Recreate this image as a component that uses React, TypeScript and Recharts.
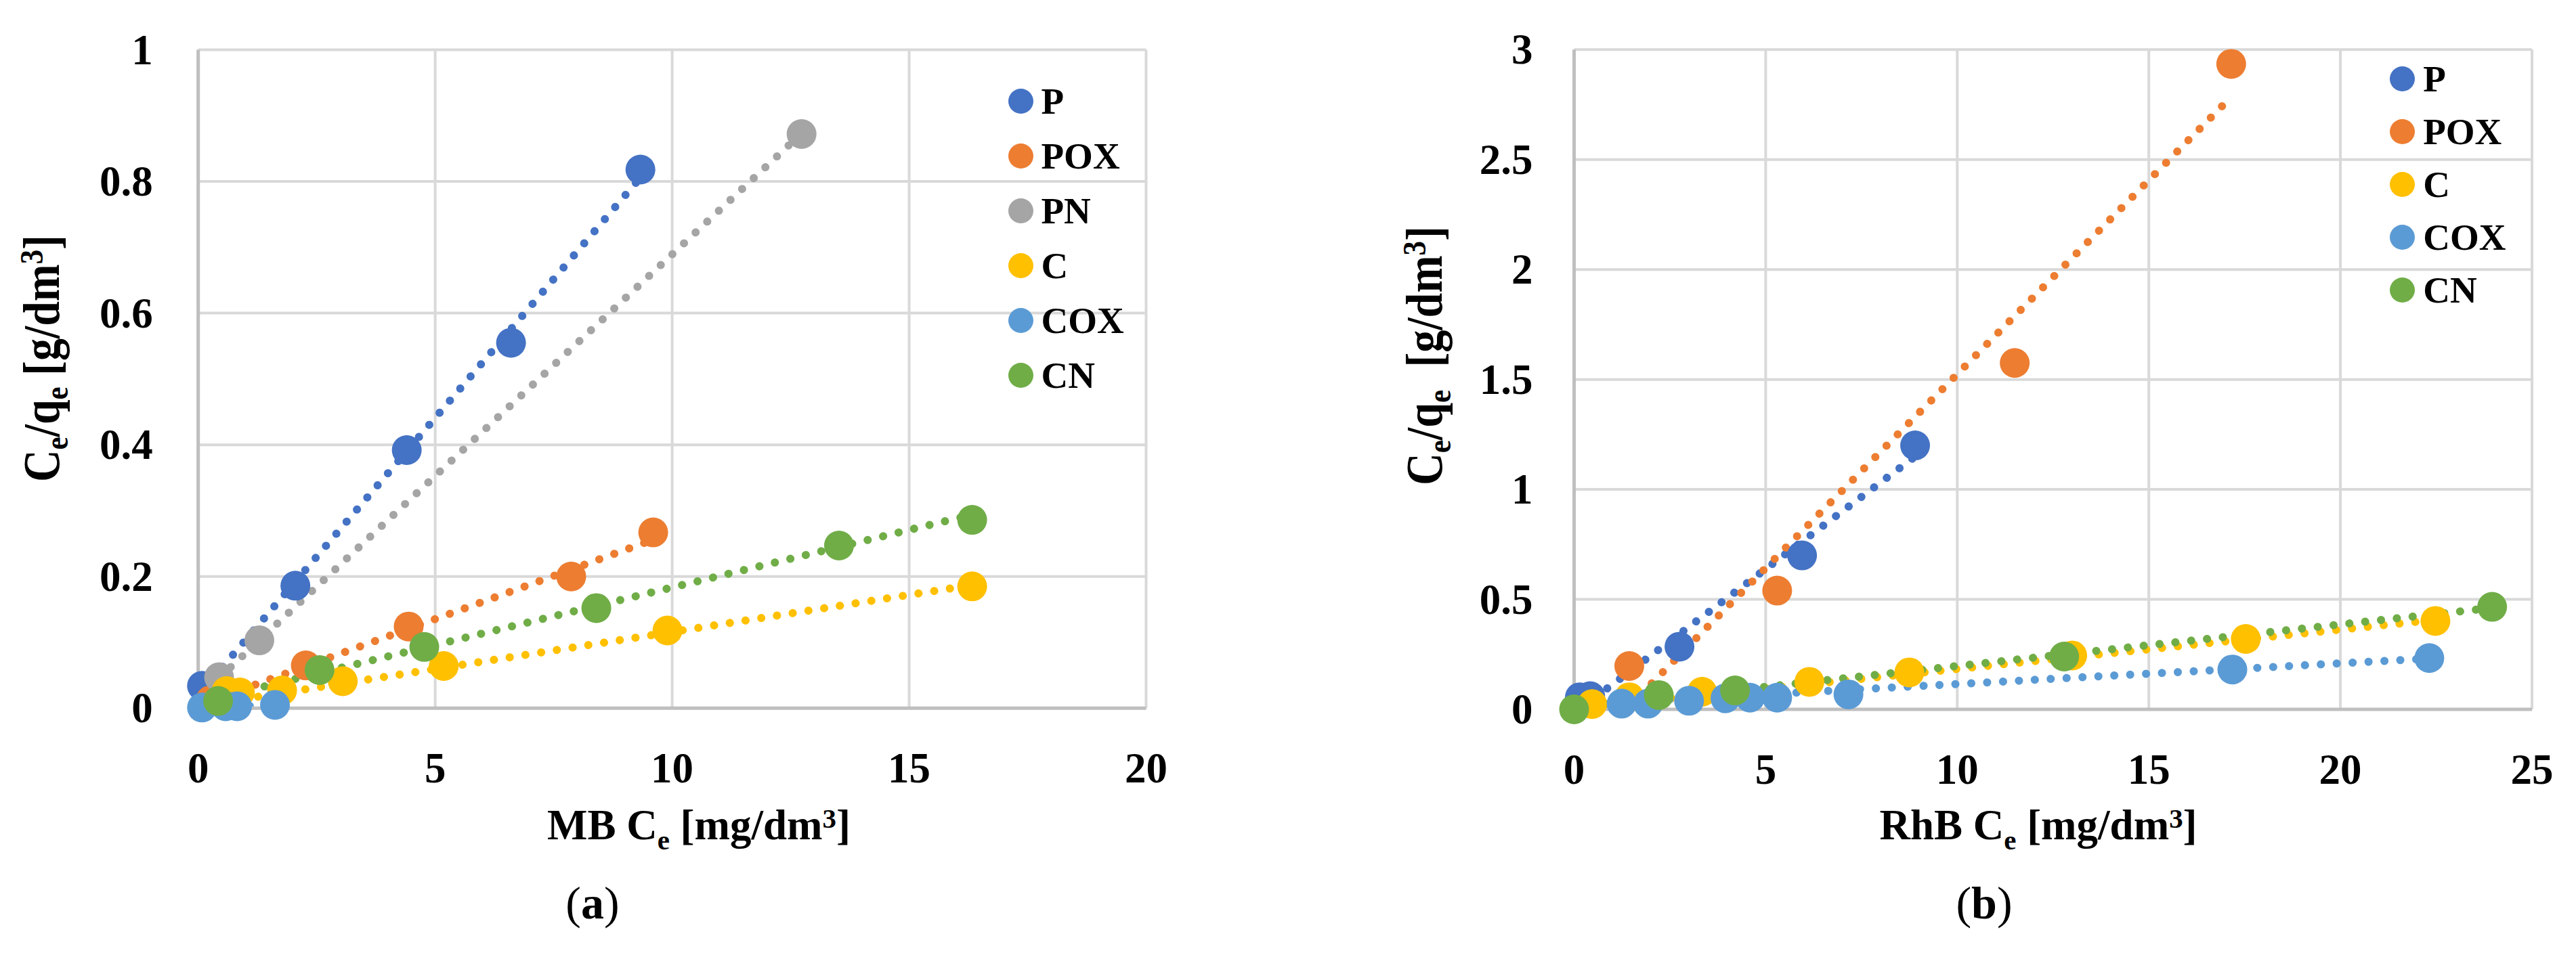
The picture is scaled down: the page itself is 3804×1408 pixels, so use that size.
import React from "react";
import {
  ComposedChart,
  Scatter,
  Line,
  XAxis,
  YAxis,
  CartesianGrid,
  Legend,
  Label,
} from "recharts";

const FONT = "'Liberation Serif', 'Times New Roman', serif";

// ---------- series names & colours ----------
const NAMES_A = ["P", "POX", "PN", "C", "COX", "CN"];
const NAMES_B = ["P", "POX", "C", "COX", "CN"];
const COLORS: Record<string, string> = {
  P: "#4472C4",
  POX: "#ED7D31",
  PN: "#A5A5A5",
  C: "#FFC000",
  COX: "#5B9BD5",
  CN: "#70AD47",
};

// ---------- chart (a): MB ----------
const mbP = [
  { x: 0.08, y: 0.034 },
  { x: 2.05, y: 0.186 },
  { x: 4.4, y: 0.392 },
  { x: 6.6, y: 0.555 },
  { x: 9.33, y: 0.818 },
];
const mbPOX = [
  { x: 0.26, y: 0.012 },
  { x: 2.27, y: 0.065 },
  { x: 4.44, y: 0.124 },
  { x: 7.87, y: 0.2 },
  { x: 9.6, y: 0.267 },
];
const mbPN = [
  { x: 0.44, y: 0.047 },
  { x: 1.29, y: 0.103 },
  { x: 12.73, y: 0.872 },
];
const mbC = [
  { x: 0.6, y: 0.026 },
  { x: 0.88, y: 0.024 },
  { x: 1.77, y: 0.027 },
  { x: 3.05, y: 0.041 },
  { x: 5.18, y: 0.064 },
  { x: 9.9, y: 0.118 },
  { x: 16.33, y: 0.185 },
];
const mbCOX = [
  { x: 0.08, y: 0.001 },
  { x: 0.58, y: 0.003 },
  { x: 0.82, y: 0.003 },
  { x: 1.62, y: 0.005 },
];
const mbCN = [
  { x: 0.42, y: 0.011 },
  { x: 2.56, y: 0.058 },
  { x: 4.77, y: 0.093 },
  { x: 8.4, y: 0.152 },
  { x: 13.52, y: 0.247 },
  { x: 16.33, y: 0.286 },
];
// linear trendline end points
const mbTrendP = [{ x: 0.08, y: 0.026 }, { x: 9.33, y: 0.806 }];
const mbTrendPOX = [{ x: 0.26, y: 0.011 }, { x: 9.6, y: 0.256 }];
const mbTrendPN = [{ x: 0.44, y: 0.046 }, { x: 12.73, y: 0.873 }];
const mbTrendC = [{ x: 0.6, y: 0.01 }, { x: 16.33, y: 0.187 }];
const mbTrendCOX = [{ x: 0.08, y: 0.001 }, { x: 1.62, y: 0.005 }];
const mbTrendCN = [{ x: 0.42, y: 0.016 }, { x: 16.33, y: 0.294 }];
const mbXTicks = [0, 5, 10, 15, 20];
const mbYTicks = [0, 0.2, 0.4, 0.6, 0.8, 1];

// ---------- chart (b): RhB ----------
const rhP = [
  { x: 0.15, y: 0.055 },
  { x: 0.42, y: 0.06 },
  { x: 2.75, y: 0.285 },
  { x: 5.95, y: 0.7 },
  { x: 8.9, y: 1.2 },
];
const rhPOX = [
  { x: 1.44, y: 0.197 },
  { x: 5.3, y: 0.54 },
  { x: 11.5, y: 1.575 },
  { x: 17.15, y: 2.935 },
];
const rhC = [
  { x: 0.47, y: 0.024 },
  { x: 1.44, y: 0.055 },
  { x: 3.34, y: 0.08 },
  { x: 6.14, y: 0.125 },
  { x: 8.75, y: 0.168 },
  { x: 13.0, y: 0.245 },
  { x: 17.53, y: 0.32 },
  { x: 22.48, y: 0.402 },
];
const rhCOX = [
  { x: 1.24, y: 0.026 },
  { x: 1.93, y: 0.026 },
  { x: 3.0, y: 0.039 },
  { x: 3.95, y: 0.05 },
  { x: 4.59, y: 0.053 },
  { x: 5.3, y: 0.053 },
  { x: 7.16, y: 0.068 },
  { x: 17.18, y: 0.181 },
  { x: 22.32, y: 0.233 },
];
const rhCN = [
  { x: 0.0, y: 0.0 },
  { x: 2.21, y: 0.065 },
  { x: 4.2, y: 0.086 },
  { x: 12.79, y: 0.24 },
  { x: 23.96, y: 0.466 },
];
const rhTrendP = [{ x: 0.2, y: 0.008 }, { x: 8.9, y: 1.15 }];
const rhTrendPOX = [{ x: 1.44, y: 0.015 }, { x: 17.15, y: 2.785 }];
const rhTrendC = [{ x: 0.47, y: 0.013 }, { x: 22.48, y: 0.407 }];
const rhTrendCOX = [{ x: 1.24, y: 0.033 }, { x: 22.32, y: 0.231 }];
const rhTrendCN = [{ x: 0.0, y: 0.008 }, { x: 23.96, y: 0.461 }];
const rhXTicks = [0, 5, 10, 15, 20, 25];
const rhYTicks = [0, 0.5, 1, 1.5, 2, 2.5, 3];

// ---------- shared pieces ----------
const MARKER_R = 22;
const makeShape = (color: string) => (props: any) =>
  props.cx == null ? null : (
    <circle cx={props.cx} cy={props.cy} r={MARKER_R} fill={color} />
  );

const XTick = (props: any) => (
  <text
    x={props.x}
    y={props.y + 110}
    textAnchor="middle"
    fontFamily={FONT}
    fontWeight={700}
    fontSize={63}
    fill="#000"
  >
    {String(props.payload.value)}
  </text>
);

const makeYTick = (gap: number) => (props: any) => (
  <text
    x={props.x - gap}
    y={props.y + 21}
    textAnchor="end"
    fontFamily={FONT}
    fontWeight={700}
    fontSize={63}
    fill="#000"
  >
    {String(props.payload.value)}
  </text>
);

const makeLegend = (names: string[], rowH: number) => () => (
  <div style={{ fontFamily: FONT, fontWeight: 700, fontSize: 55, color: "#000" }}>
    {names.map((n) => (
      <div key={n} style={{ display: "flex", alignItems: "center", height: rowH }}>
        <span
          style={{
            display: "inline-block",
            width: 37,
            height: 37,
            borderRadius: "50%",
            background: COLORS[n],
            marginRight: 12,
            flex: "none",
          }}
        />
        <span style={{ lineHeight: 1 }}>{n}</span>
      </div>
    ))}
  </div>
);

const SUB = 0.65;

const YTitle = ({
  cx,
  cy,
  len,
  gap,
}: {
  cx: number;
  cy: number;
  len: number;
  gap: string;
}) => {
  const fs = 76;
  const s = fs * SUB;
  return (
    <text
      x={cx}
      y={cy}
      transform={`rotate(-90 ${cx} ${cy})`}
      textAnchor="middle"
      fontFamily={FONT}
      fontWeight={700}
      fontSize={fs}
      fill="#000"
      textLength={len}
      lengthAdjust="spacingAndGlyphs"
      style={{ whiteSpace: "pre" }}
    >
      C
      <tspan fontSize={s} dy={13}>e</tspan>
      <tspan dy={-13}>/q</tspan>
      <tspan fontSize={s} dy={13}>e</tspan>
      <tspan dy={-13}>{gap + "[g/dm"}</tspan>
      <tspan fontSize={s} dy={-24}>3</tspan>
      <tspan dy={24}>]</tspan>
    </text>
  );
};

const XTitle = ({
  cx,
  y,
  prefix,
  capX,
  capY,
  cap,
}: {
  cx: number;
  y: number;
  prefix: string;
  capX: number;
  capY: number;
  cap: string;
}) => {
  const fs = 63;
  const s = fs * SUB;
  return (
    <g>
      <text
        x={cx}
        y={y}
        textAnchor="middle"
        fontFamily={FONT}
        fontWeight={700}
        fontSize={fs}
        fill="#000"
        style={{ whiteSpace: "pre" }}
      >
        {prefix + " C"}
        <tspan fontSize={s} dy={15}>e</tspan>
        <tspan dy={-15}>{" [mg/dm"}</tspan>
        <tspan fontSize={s} dy={-17}>3</tspan>
        <tspan dy={17}>]</tspan>
      </text>
      <text
        x={capX}
        y={capY}
        textAnchor="middle"
        fontFamily={FONT}
        fontSize={68}
        fill="#000"
      >
        (<tspan fontWeight={700}>{cap}</tspan>)
      </text>
    </g>
  );
};

type Pt = { x: number; y: number };

function renderScatters(names: string[], data: Record<string, Pt[]>) {
  return names.map((n) => (
    <Scatter
      key={"s" + n}
      name={n}
      data={data[n]}
      fill={COLORS[n]}
      shape={makeShape(COLORS[n])}
      isAnimationActive={false}
    />
  ));
}

function renderTrends(names: string[], data: Record<string, Pt[]>) {
  return names.map((n) => (
    <Line
      key={"t" + n}
      data={data[n]}
      dataKey="y"
      type="linear"
      stroke={COLORS[n]}
      strokeWidth={12}
      strokeDasharray="0.1 23.4"
      strokeLinecap="round"
      dot={false}
      activeDot={false}
      legendType="none"
      isAnimationActive={false}
    />
  ));
}

const gridStroke = "#D9D9D9";
const axisStroke = "#BFBFBF";

export default function App() {
  const mbData: Record<string, Pt[]> = {
    P: mbP,
    POX: mbPOX,
    PN: mbPN,
    C: mbC,
    COX: mbCOX,
    CN: mbCN,
  };
  const mbTrend: Record<string, Pt[]> = {
    P: mbTrendP,
    POX: mbTrendPOX,
    PN: mbTrendPN,
    C: mbTrendC,
    COX: mbTrendCOX,
    CN: mbTrendCN,
  };
  const rhData: Record<string, Pt[]> = {
    P: rhP,
    POX: rhPOX,
    C: rhC,
    COX: rhCOX,
    CN: rhCN,
  };
  const rhTrend: Record<string, Pt[]> = {
    P: rhTrendP,
    POX: rhTrendPOX,
    C: rhTrendC,
    COX: rhTrendCOX,
    CN: rhTrendCN,
  };

  return (
    <div
      style={{
        position: "absolute",
        left: 0,
        top: 0,
        width: 3804,
        height: 1408,
        background: "#fff",
        overflow: "hidden",
      }}
    >
      {/* (a) MB */}
      <div style={{ position: "absolute", left: 0, top: 0 }}>
        <ComposedChart
          width={1900}
          height={1408}
          margin={{ top: 73.5, left: 2.7, right: 207.5, bottom: 1.7 }}
        >
          <CartesianGrid stroke={gridStroke} strokeWidth={4} />
          <XAxis
            type="number"
            dataKey="x"
            domain={[0, 20]}
            ticks={mbXTicks}
            height={360}
            tickLine={false}
            tickSize={0}
            tickMargin={0}
            axisLine={{ stroke: axisStroke, strokeWidth: 5 }}
            tick={XTick}
            interval={0}
          >
            <Label
              content={() => (
                <XTitle cx={1032} y={1240} prefix="MB" capX={875} capY={1357} cap="a" />
              )}
            />
          </XAxis>
          <YAxis
            type="number"
            dataKey="y"
            domain={[0, 1]}
            ticks={mbYTicks}
            width={290}
            tickLine={false}
            tickSize={0}
            tickMargin={0}
            axisLine={{ stroke: axisStroke, strokeWidth: 5 }}
            tick={makeYTick(67)}
            interval={0}
          >
            <Label content={() => <YTitle cx={87} cy={529.5} len={365} gap=" " />} />
          </YAxis>
          <Legend
            layout="vertical"
            align="center"
            verticalAlign="middle"
            content={makeLegend(NAMES_A, 81)}
            wrapperStyle={{ left: 1488.5, top: 108.5, width: 300, height: 490 }}
          />
          {renderScatters(NAMES_A, mbData)}
          {renderTrends(NAMES_A, mbTrend)}
        </ComposedChart>
      </div>

      {/* (b) RhB */}
      <div style={{ position: "absolute", left: 1900, top: 0 }}>
        <ComposedChart
          width={1904}
          height={1408}
          margin={{ top: 73.3, left: 134.5, right: 65, bottom: 0 }}
        >
          <CartesianGrid stroke={gridStroke} strokeWidth={4} />
          <XAxis
            type="number"
            dataKey="x"
            domain={[0, 25]}
            ticks={rhXTicks}
            height={360}
            tickLine={false}
            tickSize={0}
            tickMargin={0}
            axisLine={{ stroke: axisStroke, strokeWidth: 5 }}
            tick={XTick}
            interval={0}
          >
            <Label
              content={() => (
                <XTitle cx={1110} y={1240} prefix="RhB" capX={1030} capY={1357} cap="b" />
              )}
            />
          </XAxis>
          <YAxis
            type="number"
            dataKey="y"
            domain={[0, 3]}
            ticks={rhYTicks}
            width={290}
            tickLine={false}
            tickSize={0}
            tickMargin={0}
            axisLine={{ stroke: axisStroke, strokeWidth: 5 }}
            tick={makeYTick(61)}
            interval={0}
          >
            <Label content={() => <YTitle cx={229} cy={525.5} len={383} gap="  " />} />
          </YAxis>
          <Legend
            layout="vertical"
            align="center"
            verticalAlign="middle"
            content={makeLegend(NAMES_B, 78)}
            wrapperStyle={{ left: 1629.2, top: 77.7, width: 260, height: 400 }}
          />
          {renderScatters(NAMES_B, rhData)}
          {renderTrends(NAMES_B, rhTrend)}
        </ComposedChart>
      </div>
    </div>
  );
}
